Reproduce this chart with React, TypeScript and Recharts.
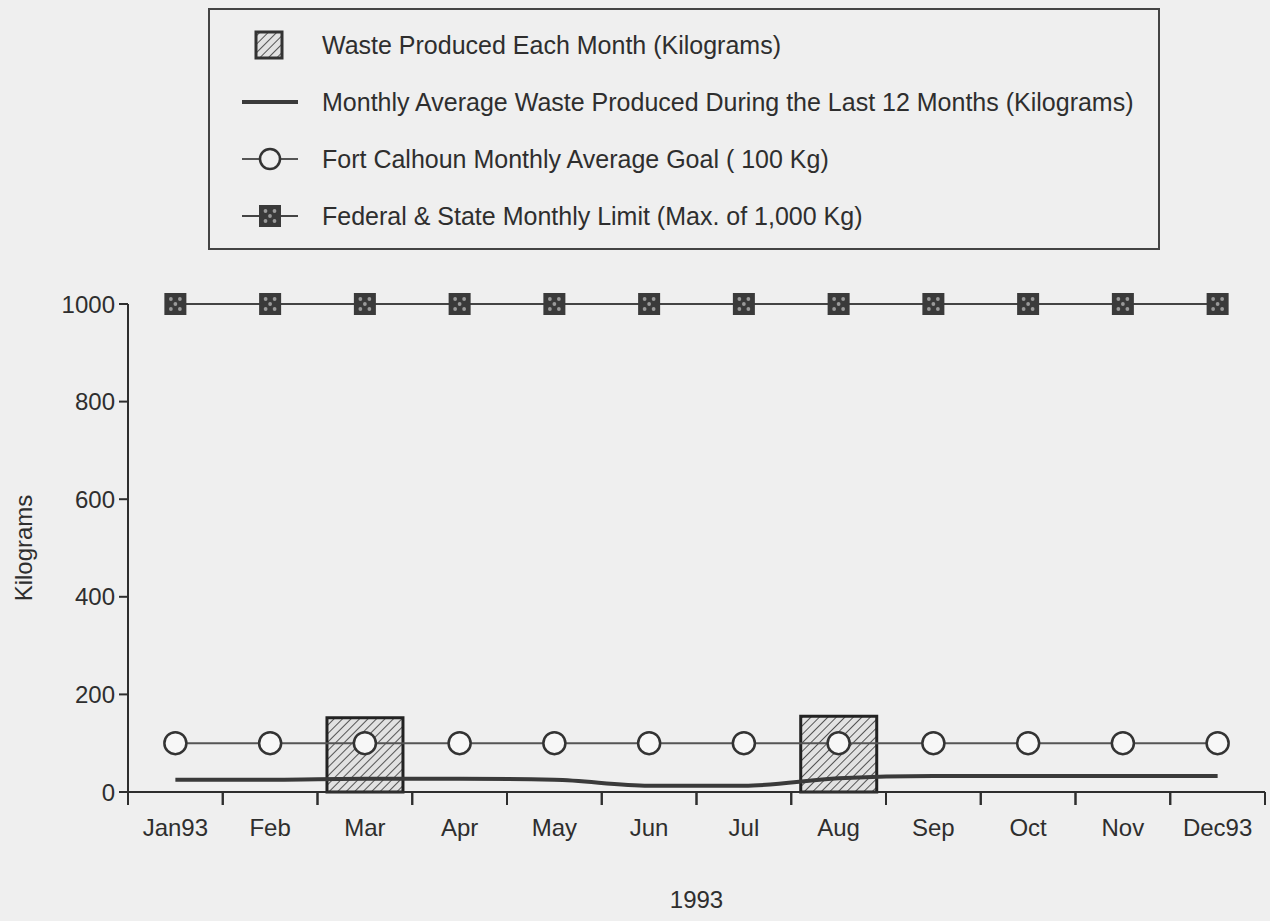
import React from 'react';
import { ComposedChart, Bar, Line, XAxis, YAxis } from 'recharts';

const months = ['Jan93', 'Feb', 'Mar', 'Apr', 'May', 'Jun', 'Jul', 'Aug', 'Sep', 'Oct', 'Nov', 'Dec93'];
const wasteProduced = [0, 0, 152, 0, 0, 0, 0, 155, 0, 0, 0, 0];
const monthlyAverage = [25, 25, 27, 27, 25, 13, 13, 28, 33, 33, 33, 33];
const averageGoal = [100, 100, 100, 100, 100, 100, 100, 100, 100, 100, 100, 100];
const monthlyLimit = [1000, 1000, 1000, 1000, 1000, 1000, 1000, 1000, 1000, 1000, 1000, 1000];
const yTicks = [0, 200, 400, 600, 800, 1000];

const data = months.map((month, i) => ({
  month,
  waste: wasteProduced[i],
  average: monthlyAverage[i],
  goal: averageGoal[i],
  limit: monthlyLimit[i],
}));

const W = 1270;
const H = 921;
const MARGIN = { top: 304, right: 5, bottom: 9, left: 8 };
const Y_AXIS_W = 120;
const PLOT_W = W - MARGIN.left - MARGIN.right - Y_AXIS_W;
const HALF_BAND = PLOT_W / months.length / 2;

const FONT = '"Liberation Sans", Arial, Helvetica, sans-serif';
const INK = '#2e2e2e';
const BG = '#efefef';

// tick marks sit on the month boundaries, labels in the middle of each month
const MonthTick = (props: any) => {
  const { x, y, payload } = props;
  return (
    <g>
      <line x1={x - HALF_BAND} y1={y} x2={x - HALF_BAND} y2={y + 13} stroke={INK} strokeWidth={2} />
      <line x1={x + HALF_BAND} y1={y} x2={x + HALF_BAND} y2={y + 13} stroke={INK} strokeWidth={2} />
      <text x={x} y={y + 27} dy="0.71em" textAnchor="middle" fill={INK} fontSize={24} fontFamily={FONT}>
        {payload.value}
      </text>
    </g>
  );
};

const LimitMarker = (props: any) => {
  const { cx, cy } = props;
  if (cx == null || cy == null) return null;
  return (
    <g>
      <rect x={cx - 11} y={cy - 11} width={22} height={22} fill="#3a3a3a" />
      <circle cx={cx - 4.5} cy={cy - 5} r={1.9} fill="#9a9a9a" />
      <circle cx={cx + 4.5} cy={cy - 5} r={1.9} fill="#9a9a9a" />
      <circle cx={cx} cy={cy} r={1.9} fill="#9a9a9a" />
      <circle cx={cx - 4.5} cy={cy + 5} r={1.9} fill="#9a9a9a" />
      <circle cx={cx + 4.5} cy={cy + 5} r={1.9} fill="#9a9a9a" />
    </g>
  );
};

const HatchDefs = () => (
  <defs>
    <pattern id="hatch" width="6" height="6" patternUnits="userSpaceOnUse" patternTransform="rotate(45)">
      <rect width="6" height="6" fill="#e2e2e2" />
      <line x1="0" y1="0" x2="0" y2="6" stroke="#3a3a3a" strokeWidth="1.7" />
    </pattern>
  </defs>
);

const legendItems = [
  { kind: 'bar', text: 'Waste Produced Each Month (Kilograms)' },
  { kind: 'avg', text: 'Monthly Average Waste Produced During the Last 12 Months (Kilograms)' },
  { kind: 'goal', text: 'Fort Calhoun Monthly Average Goal ( 100 Kg)' },
  { kind: 'limit', text: 'Federal & State Monthly Limit (Max. of 1,000 Kg)' },
];

const LegendIcon = ({ kind }: { kind: string }) => (
  <svg width={70} height={30} style={{ display: 'block' }}>
    <HatchDefs />
    {kind === 'bar' && <rect x={20} y={2} width={26} height={26} fill="url(#hatch)" stroke="#333" strokeWidth={3} />}
    {kind === 'avg' && <line x1={6} y1={15} x2={62} y2={15} stroke="#3a3a3a" strokeWidth={4} />}
    {kind === 'goal' && (
      <g>
        <line x1={6} y1={15} x2={62} y2={15} stroke="#555" strokeWidth={2} />
        <circle cx={34} cy={15} r={10} fill={BG} stroke="#333" strokeWidth={2.5} />
      </g>
    )}
    {kind === 'limit' && (
      <g>
        <line x1={6} y1={15} x2={62} y2={15} stroke="#444" strokeWidth={2} />
        <LimitMarker cx={34} cy={15} />
      </g>
    )}
  </svg>
);

const ChartLegend = () => (
  <div
    style={{
      position: 'absolute',
      left: 208,
      top: 8,
      width: 948,
      height: 238,
      border: '2px solid #444',
      boxSizing: 'content-box',
      fontFamily: FONT,
      color: INK,
      fontSize: 25,
    }}
  >
    {legendItems.map((item, i) => (
      <div key={item.kind} style={{ position: 'absolute', left: 26, top: 20 + i * 57, display: 'flex', alignItems: 'center' }}>
        <LegendIcon kind={item.kind} />
        <span style={{ marginLeft: 16, whiteSpace: 'nowrap' }}>{item.text}</span>
      </div>
    ))}
  </div>
);

export default function App() {
  return (
    <div style={{ position: 'absolute', left: 0, top: 0, width: W, height: H, background: BG }}>
      <ComposedChart width={W} height={H} data={data} margin={MARGIN} barCategoryGap="10%">
        <HatchDefs />
        <XAxis
          dataKey="month"
          height={120}
          tickLine={false}
          tickSize={0}
          tickMargin={0}
          interval={0}
          tick={<MonthTick />}
          axisLine={{ stroke: INK, strokeWidth: 2 }}
          label={{ value: '1993', position: 'insideBottom', offset: 4, fill: INK, fontSize: 24, fontFamily: FONT }}
        />
        <YAxis
          width={Y_AXIS_W}
          domain={[0, 1000]}
          ticks={yTicks}
          tickSize={9}
          tickMargin={4}
          tickLine={{ stroke: INK, strokeWidth: 2 }}
          axisLine={{ stroke: INK, strokeWidth: 2 }}
          tick={{ fill: INK, fontSize: 24, fontFamily: FONT }}
          label={{
            value: 'Kilograms',
            angle: -90,
            position: 'insideLeft',
            offset: 15,
            fill: INK,
            fontSize: 24,
            fontFamily: FONT,
            style: { textAnchor: 'middle' },
          }}
        />
        <Bar dataKey="waste" fill="url(#hatch)" stroke="#222" strokeWidth={3} isAnimationActive={false} />
        <Line dataKey="average" type="monotone" stroke="#3a3a3a" strokeWidth={4} dot={false} isAnimationActive={false} />
        <Line
          dataKey="goal"
          stroke="#555"
          strokeWidth={2}
          dot={{ r: 11, fill: '#f7f7f7', stroke: '#333', strokeWidth: 2.5 }}
          isAnimationActive={false}
        />
        <Line dataKey="limit" stroke="#444" strokeWidth={2} dot={<LimitMarker />} isAnimationActive={false} />
      </ComposedChart>
      <ChartLegend />
    </div>
  );
}
